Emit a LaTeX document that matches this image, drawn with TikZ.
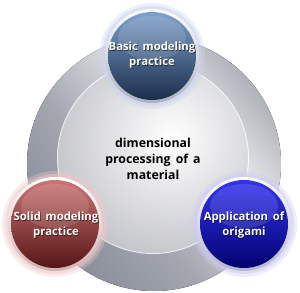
\documentclass[tikz,border=0pt]{standalone}
\usepackage{fontspec}
\setmainfont{Open Sans}[WordSpace=1.6]
\usetikzlibrary{fadings}
\definecolor{mA}{HTML}{8A8E99}
\definecolor{mB}{HTML}{A4A7B0}
\definecolor{mC}{HTML}{D2D3D8}
\definecolor{mD}{HTML}{E9EAED}
\definecolor{mE}{HTML}{AEB1B8}
\pgfdeclarehorizontalshading{metal}{100bp}{color(0bp)=(mA); color(25bp)=(mA); color(42bp)=(mB); color(55bp)=(mC); color(61bp)=(mD); color(67bp)=(mC); color(75bp)=(mE); color(100bp)=(mE)}
\definecolor{bTop}{HTML}{7FA1CB}
\definecolor{bMid}{HTML}{3D5F89}
\definecolor{bBot}{HTML}{1A2E4B}
\definecolor{bHalo}{HTML}{C9D3EC}
\definecolor{rTop}{HTML}{CC7474}
\definecolor{rMid}{HTML}{9C3434}
\definecolor{rBot}{HTML}{561616}
\definecolor{rHalo}{HTML}{F1C9C9}
\definecolor{uTop}{HTML}{3434F0}
\definecolor{uMid}{HTML}{1212D4}
\definecolor{uBot}{HTML}{020270}
\definecolor{uHalo}{HTML}{CDCDF2}
\definecolor{discEdge}{HTML}{C2C3C8}
\newcommand\myorb[6]{%
  % #1 centre name, #2 halo, #3 rim, #4 top, #5 mid, #6 bottom
  \fill[#2, opacity=0.35] (#1) circle[radius=53pt];
  \fill[#2, opacity=0.5] (#1) circle[radius=50pt];
  \shade[top color=white, bottom color=#3] (#1) circle[radius=47pt];
  \shade[top color=#4, middle color=#5, bottom color=#6] (#1) circle[radius=44pt];
  \fill[white, opacity=0.12] ([yshift=18pt]#1) ellipse[x radius=34pt, y radius=22pt];
}
\tikzset{
  lbl/.style={align=center, text=white, inner sep=0pt,
    font=\bfseries\fontsize{11.3}{15}\selectfont},
  lblsh/.style={lbl, text=black, opacity=0.55},
  ctext/.style={align=center, text=black, inner sep=0pt,
    font=\bfseries\fontsize{12.3}{16}\selectfont}
}
\begin{document}
\begin{tikzpicture}[x=1pt, y=-1pt]
\useasboundingbox (0,0) rectangle (300,292);
\coordinate (ring) at (154,164);
\coordinate (disc) at (153,158);
\coordinate (o1) at (152,56);
\coordinate (o2) at (55,224);
\coordinate (o3) at (244,224);
% metallic ring
\fill[shading=metal, shading angle=40] (ring) circle[radius=127pt];
% inner disc
\begin{scope}
  \clip (disc) circle[radius=95pt];
  \shade[inner color=white, outer color=discEdge] (172,138) circle[radius=125pt];
\end{scope}
\draw[white, opacity=0.8, line width=1pt] (disc) circle[radius=95.5pt];
% orbs
\myorb{o1}{bHalo}{bHalo!60!gray}{bTop}{bMid}{bBot}
\myorb{o2}{rHalo}{rHalo!70!gray}{rTop}{rMid}{rBot}
\myorb{o3}{uHalo}{uHalo!70!gray}{uTop}{uMid}{uBot}
% texts
\node[ctext] (centre) at (153,159) {dimensional\\processing of a\\material};
\node[lblsh] (t1s) at (152.7,55.7) {Basic modeling\\practice};
\node[lbl] (t1) at (152,55) {Basic modeling\\practice};
\node[lblsh] (t2s) at (56.7,225.7) {Solid modeling\\practice};
\node[lbl] (t2) at (56,225) {Solid modeling\\practice};
\node[lblsh] (t3s) at (244.7,225.7) {Application of\\origami};
\node[lbl] (t3) at (244,225) {Application of\\origami};
\end{tikzpicture}
\end{document}
